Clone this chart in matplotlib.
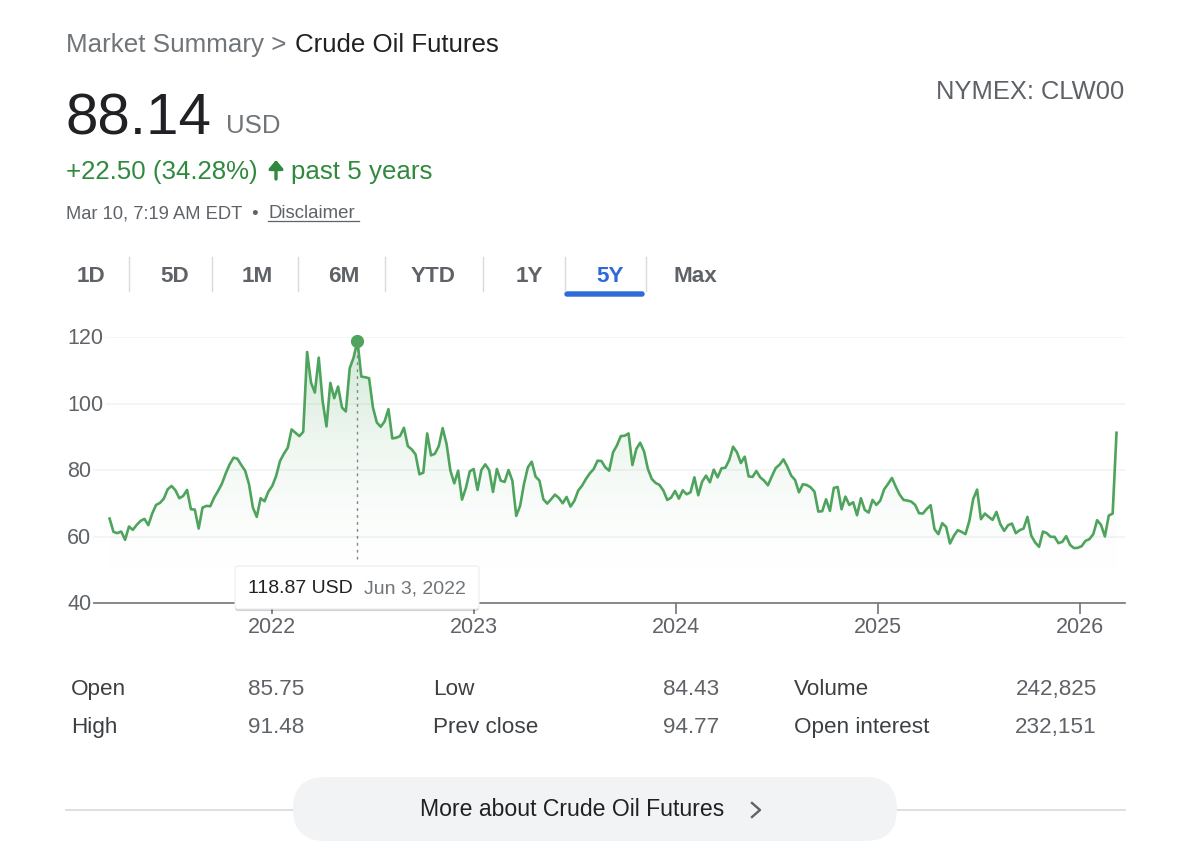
import matplotlib
matplotlib.use("Agg")
import matplotlib.pyplot as plt
import matplotlib.dates as mdates
from matplotlib.patches import FancyBboxPatch
import matplotlib.patheffects as pe
import numpy as np
import pandas as pd

plt.rcParams['font.family'] = ['Liberation Sans', 'DejaVu Sans']

prices = [
65.4,61.4,61.0,61.5,59.0,63.0,62.0,63.5,64.7,65.3,63.4,66.9,69.5,70.1,71.4,74.2,75.2,73.9,71.5,72.2,
74.0,68.2,68.1,62.4,68.7,69.2,69.1,71.7,73.7,75.9,79.0,81.7,83.7,83.4,81.5,79.8,75.7,68.7,65.9,71.5,
70.6,73.5,75.2,78.2,82.7,84.9,86.7,92.2,91.2,90.2,91.5,115.5,106.3,103.3,113.8,100.8,93.1,106.2,101.6,105.1,
98.8,97.6,110.6,113.8,118.87,108.1,107.9,107.6,98.8,94.3,93.0,94.6,98.3,89.5,89.7,90.2,92.7,87.2,86.2,84.7,
78.7,79.2,91.0,84.4,84.9,87.2,92.6,87.9,79.8,76.0,79.8,71.1,74.6,79.6,80.3,74.0,80.0,81.7,80.0,73.4,
80.3,76.8,76.4,80.0,76.8,66.2,69.2,75.8,80.8,82.5,78.0,76.8,71.2,69.9,71.2,72.6,71.6,70.0,71.9,69.0,
70.7,73.8,75.3,77.3,79.0,80.3,82.8,82.7,80.8,79.8,85.3,87.4,90.2,90.3,91.0,81.5,86.3,88.2,85.6,80.3,77.3,
76.1,75.5,73.8,71.0,71.7,73.7,71.4,73.9,72.7,73.3,77.8,72.4,76.5,78.3,76.3,80.1,77.8,80.5,80.7,83.0,
87.0,85.3,82.1,84.0,78.1,77.9,79.7,77.8,76.8,75.4,78.1,80.6,81.6,83.2,81.0,78.3,77.0,73.3,75.7,75.5,
74.8,73.5,67.5,67.6,71.2,67.7,74.6,74.9,68.2,72.0,69.5,70.3,66.4,71.5,68.0,67.2,71.0,69.5,70.8,74.2,
75.8,77.6,75.0,72.6,71.0,70.8,70.5,69.5,67.0,66.9,68.3,69.4,62.2,60.7,64.0,62.9,57.9,60.2,61.9,61.4,
60.7,64.7,71.3,74.1,65.2,66.9,65.9,65.0,67.4,63.7,61.7,63.4,63.9,61.0,61.9,62.4,65.9,60.2,58.2,56.9,
61.5,61.0,59.9,59.9,58.0,58.4,60.1,57.5,56.5,56.6,57.1,58.7,59.2,60.7,64.9,63.5,60.0,66.3,66.9,91.2,
]
y_ticks = [40, 60, 80, 100, 120]
year_ticks = [2022, 2023, 2024, 2025, 2026]
ranges = ["1D", "5D", "1M", "6M", "YTD", "1Y", "5Y", "Max"]
stats = [("Open", "85.75"), ("High", "91.48"), ("Low", "84.43"),
         ("Prev close", "94.77"), ("Volume", "242,825"), ("Open interest", "232,151")]

dates = pd.date_range(start=pd.Timestamp("2021-03-14"), periods=len(prices), freq="7D")

W, H = 1200, 856
fig = plt.figure(figsize=(12, 8.56), dpi=100, facecolor="white")

# chart axes
L, R, T, B = 92, 1125, 337, 603
ax = fig.add_axes([L / W, 1 - B / H, (R - L) / W, (B - T) / H])
x2022 = mdates.date2num(pd.Timestamp("2022-01-01"))
x2026 = mdates.date2num(pd.Timestamp("2026-01-01"))
ppd = (1080 - 271.7) / (x2026 - x2022)
xlim = (x2022 - (271.7 - L) / ppd, x2022 + (R - 271.7) / ppd)
ax.set_facecolor("none")
for s in ["top", "right", "left"]:
    ax.spines[s].set_visible(False)
ax.spines["bottom"].set_color("#70757a")
ax.spines["bottom"].set_linewidth(1.2)
ax.set_yticks(y_ticks)
ax.set_yticklabels([])
ax.tick_params(axis="y", length=0)
ax.grid(axis="y", color="#f1f2f3", lw=1.1)
ax.set_axisbelow(True)
ax.set_xticks([mdates.date2num(pd.Timestamp(f"{y}-01-01")) for y in year_ticks])
ax.set_xticklabels([str(y) for y in year_ticks], fontsize=15.5, color="#5f6368")
ax.tick_params(axis="x", length=8, width=1.2, color="#70757a", pad=2)

xn = mdates.date2num(dates)
grad = np.linspace(0, 1, 256)
rgba = np.zeros((256, 1, 4))
rgba[:, 0, 0], rgba[:, 0, 1], rgba[:, 0, 2] = 0.25, 0.62, 0.33
rgba[:, 0, 3] = 0.25 * grad ** 2
poly = ax.fill_between(xn, prices, 40, color="none")
im = ax.imshow(rgba, extent=[xn[0], xn[-1], 40, 120], origin="lower", aspect="auto", zorder=1)
im.set_clip_path(poly.get_paths()[0], transform=ax.transData)
ax.set_xlim(*xlim)
ax.set_ylim(40, 120)
ax.plot(xn, prices, color="#4ea45c", lw=1.9, solid_joinstyle="round", zorder=3)
ipk = int(np.argmax(prices))
pk, pv = xn[ipk], prices[ipk]
ax.plot([pk, pk], [pv, 52], color="#80868b", lw=1, ls=(0, (2, 3)), zorder=2)
ax.plot([pk], [pv], "o", ms=8.5, color="#4ea45c", zorder=4, clip_on=False)

# page chrome in pixel coordinates
ov = fig.add_axes([0, 0, 1, 1], zorder=5)
ov.set_xlim(0, W); ov.set_ylim(H, 0); ov.axis("off"); ov.patch.set_alpha(0)
GR = "#5f6368"; DK = "#202124"; GN = "#2f8a3e"

def t(x, y, s, size, color=GR, ha="left", **kw):
    return ov.text(x, y, s, fontsize=size, color=color, ha=ha, va="baseline", **kw)

t(66, 52, "Market Summary >", 18.75, "#70757a")
t(295, 52, "Crude Oil Futures", 18.6, DK)
t(1124, 99, "NYMEX: CLW00", 18.4, GR, ha="right")
t(66, 134, "88.14", 42, DK)
t(226, 133, "USD", 18.6, "#70757a")
t(66, 179, "+22.50 (34.28%)", 18.6, GN)
t(291, 179, "past 5 years", 18.6, GN)
ov.annotate("", xy=(276, 160), xytext=(276, 179),
            arrowprops=dict(arrowstyle="-|>,head_width=0.42,head_length=0.5", color=GN, lw=2.4, shrinkA=0, shrinkB=0))
t(66, 218, "Mar 10, 7:19 AM EDT  •", 13.2, GR)
t(268, 218, "Disclaimer", 13.4, GR)
ov.plot([268, 359], [221, 221], color=GR, lw=0.9)

# range selector
centers = [91, 175, 257, 344, 433, 529, 610, 695]
seps = [128.5, 211.5, 298, 385, 483, 564.5, 646]
for c, r in zip(centers, ranges):
    col = "#2f6bd8" if r == "5Y" else GR
    ov.text(c, 282, r, fontsize=16.2, color=col, ha="center", va="baseline", fontweight="bold")
for s in seps:
    ov.plot([s, s], [257, 291], color="#d8dadc", lw=1.0)
ov.add_patch(FancyBboxPatch((565, 292), 79, 4, boxstyle="round,pad=0,rounding_size=2",
                            fc="#2f6bd8", ec="#2f6bd8", lw=1))

# y labels
for v in y_ticks:
    yy = B - (v - 40) * (B - T) / 80
    ov.text(67, yy + 7, str(v), fontsize=15.5, color=GR, ha="left", va="baseline",
            bbox=dict(fc="white", ec="none", pad=1.5))

# tooltip
box = FancyBboxPatch((235, 566), 244, 43, boxstyle="round,pad=0,rounding_size=3", fc="white", ec="#eceded", lw=0.8,
                     path_effects=[pe.SimplePatchShadow(offset=(0, -1.5), alpha=0.18, shadow_rgbFace="#000000"), pe.Normal()], zorder=6)
ov.add_patch(box)
t(248, 593, "118.87 USD", 14, DK, zorder=7)
t(364, 593, "Jun 3, 2022", 14, "#70757a", zorder=7)

# stats
rows = [695, 733]
cols = [(71, 304), (433, 719), (794, 1097)]
for i, (lab, val) in enumerate(stats):
    c = cols[i // 2]; yy = rows[i % 2]
    t(c[0], yy, lab, 16.2, "#3c4043")
    t(c[1], yy, val, 16.2, GR, ha="right")

# button
ov.plot([66, 1125], [810, 810], color="#d5d6d8", lw=1.1, zorder=1)
ov.add_patch(FancyBboxPatch((293, 777), 604, 64, boxstyle="round,pad=0,rounding_size=32", fc="#f1f3f4", ec="none", zorder=2))
t(420, 816, "More about Crude Oil Futures", 16.6, DK, zorder=3)
ov.plot([752, 760, 752], [803, 810, 817], color=GR, lw=1.7, zorder=3)

fig.savefig("out.png", dpi=100)
